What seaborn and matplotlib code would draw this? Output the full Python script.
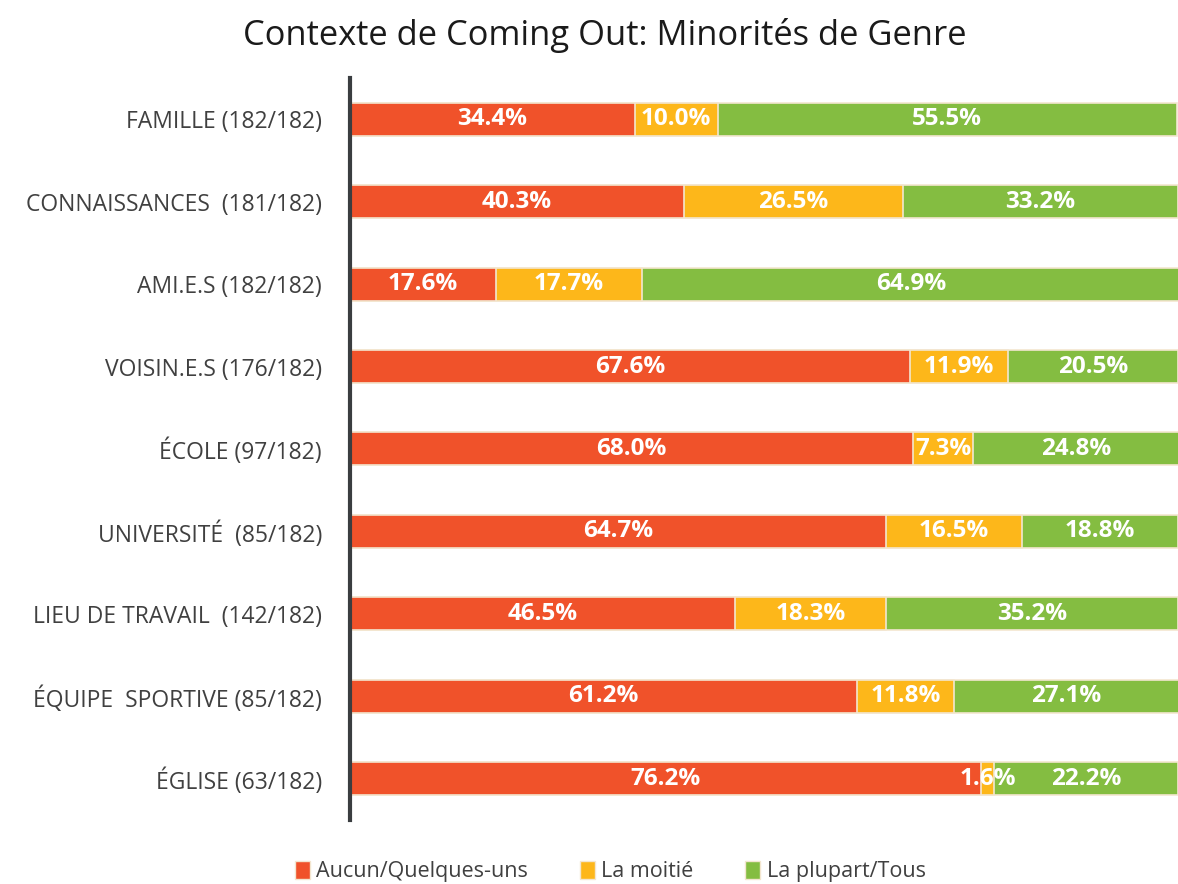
import numpy as np
import pandas as pd
import matplotlib
matplotlib.use("Agg")
import matplotlib.pyplot as plt
import seaborn as sns
from matplotlib.patches import Patch

categories = ["FAMILLE (182/182)", "CONNAISSANCES  (181/182)", "AMI.E.S (182/182)",
              "VOISIN.E.S (176/182)", "ÉCOLE (97/182)", "UNIVERSITÉ  (85/182)",
              "LIEU DE TRAVAIL  (142/182)", "ÉQUIPE  SPORTIVE (85/182)", "ÉGLISE (63/182)"]
aucun = [34.4, 40.3, 17.6, 67.6, 68.0, 64.7, 46.5, 61.2, 76.2]
moitie = [10.0, 26.5, 17.7, 11.9, 7.3, 16.5, 18.3, 11.8, 1.6]
plupart = [55.5, 33.2, 64.9, 20.5, 24.8, 18.8, 35.2, 27.1, 22.2]
series_names = ["Aucun/Quelques-uns", "La moitié", "La plupart/Tous"]
colors = ["#F0522A", "#FDB71A", "#84BD41"]

sns.set_style("white")
plt.rcParams['font.family'] = ['Open Sans', 'DejaVu Sans']

df = pd.DataFrame({"cat": categories, "a": aucun, "m": moitie, "p": plupart})
df["c1"] = df["a"]
df["c2"] = df["a"] + df["m"]
df["c3"] = df["a"] + df["m"] + df["p"]

fig = plt.figure(figsize=(11.78, 8.84), dpi=100)
ax = fig.add_axes([0.297, 0.0724, 0.703, 0.8394])

# stacked by drawing cumulative totals, widest first
for col, color in zip(["c3", "c2", "c1"], colors[::-1]):
    sns.barplot(data=df, x=col, y="cat", orient="h", color=color, width=0.4,
                edgecolor="#F3E6D0", linewidth=1.2, saturation=1, ax=ax)

for i, row in df.iterrows():
    starts = [0, row["c1"], row["c2"]]
    vals = [row["a"], row["m"], row["p"]]
    for s, v in zip(starts, vals):
        ax.text(s + v / 2, i, f"{v:.1f}%", ha="center", va="center",
                color="white", fontsize=17.5, fontweight="bold")

ax.set_xlim(0, 100)
ax.set_ylim(8.5, -0.5)
ax.set_xlabel("")
ax.set_ylabel("")
ax.set_xticks([])
ax.tick_params(axis="y", length=0, pad=20, labelsize=16.5, labelcolor="#404040")
for s in ["top", "right", "bottom"]:
    ax.spines[s].set_visible(False)
ax.spines["left"].set_color("#3A3D40")
ax.spines["left"].set_linewidth(3)

fig.suptitle("Contexte de Coming Out: Minorités de Genre", x=0.513, y=0.98,
             fontsize=24.8, fontweight="medium", color="#1a1a1a")

handles = [Patch(facecolor=c, edgecolor="#F3E6D0") for c in colors]
fig.legend(handles, series_names, loc="lower center", bbox_to_anchor=(0.518, -0.02),
           ncol=3, frameon=False, fontsize=15.5, handlelength=0.7, handleheight=0.9,
           handletextpad=0.3, columnspacing=2.4, labelcolor="#404040")

fig.savefig("out.png", dpi=100)
